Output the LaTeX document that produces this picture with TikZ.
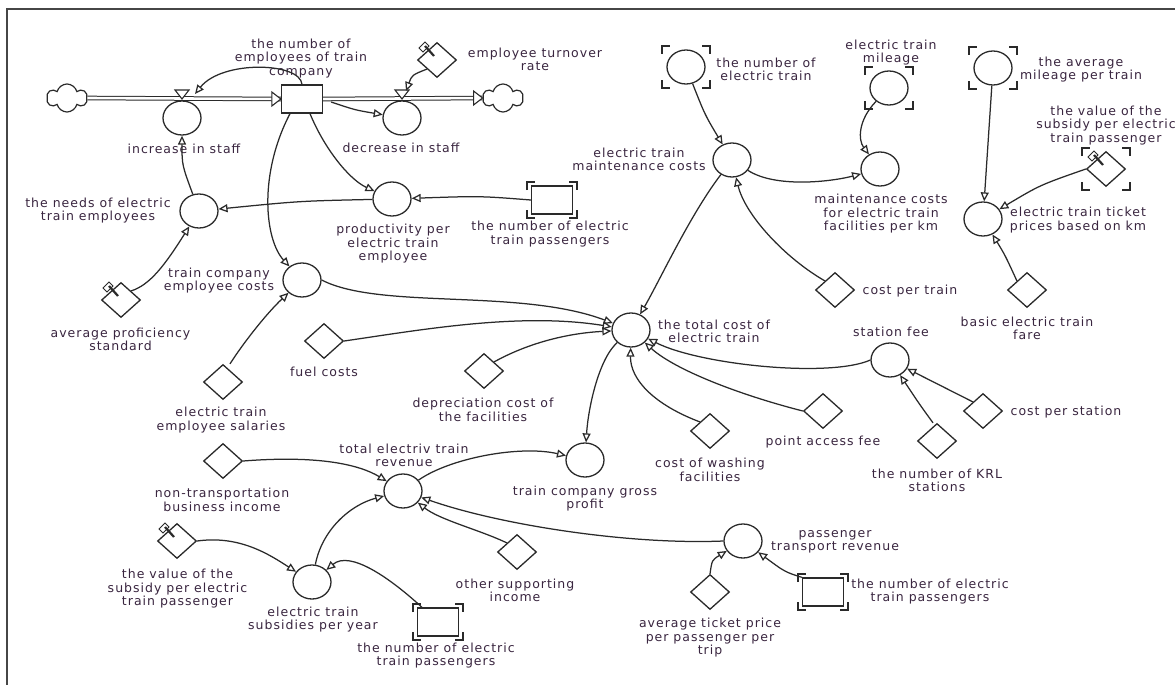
\documentclass[tikz,border=0pt]{standalone}
\usepackage{fontspec}
\newfontfamily\lblfam{DejaVu Sans}[LetterSpace=8]
\usetikzlibrary{shapes.geometric,shapes.symbols,arrows.meta}
\definecolor{ln}{HTML}{2A2A2A}
\definecolor{txt}{HTML}{3A2640}
\definecolor{frm}{HTML}{464646}
\newcommand\lblfont{\lblfam\fontsize{12.5}{13.5}\selectfont}
\newcommand\brackets[3]{%
  \draw[brk] ([shift={(-#2,-#3+8)}]#1.center) -- ([shift={(-#2,-#3)}]#1.center) -- ([shift={(-#2+8,-#3)}]#1.center);
  \draw[brk] ([shift={(#2-8,-#3)}]#1.center) -- ([shift={(#2,-#3)}]#1.center) -- ([shift={(#2,-#3+8)}]#1.center);
  \draw[brk] ([shift={(-#2,#3-8)}]#1.center) -- ([shift={(-#2,#3)}]#1.center) -- ([shift={(-#2+8,#3)}]#1.center);
  \draw[brk] ([shift={(#2-8,#3)}]#1.center) -- ([shift={(#2,#3)}]#1.center) -- ([shift={(#2,#3-8)}]#1.center);
}
\newcommand\pinicon[1]{%
  \draw[ln,line width=0.9pt,fill=white] ([shift={(-18,-12)}]#1.center) -- ([shift={(-12,-18)}]#1.center) -- ([shift={(-8,-14)}]#1.center) -- ([shift={(-14,-8)}]#1.center) -- cycle;
  \draw[ln,line width=2.2pt] ([shift={(-12,-14)}]#1.center) -- ([shift={(-3,-4)}]#1.center);
}
\newcommand\valve[1]{%
  \draw[ln,line width=1.1pt,fill=white] ([shift={(-7,-28)}]#1.center) -- ([shift={(7,-28)}]#1.center) -- ([shift={(0,-19)}]#1.center) -- cycle;
}
\newcommand\pipetip[1]{%
  \draw[ln,line width=1.1pt,fill=white] ([shift={(-9,-7)}]#1) -- (#1) -- ([shift={(-9,7)}]#1) -- cycle;
}
\tikzset{
  aux/.style={ellipse,draw=ln,line width=1.3pt,fill=white,minimum width=38pt,minimum height=34pt,inner sep=0pt},
  cst/.style={diamond,draw=ln,line width=1.3pt,fill=white,minimum width=39pt,minimum height=35pt,inner sep=0pt},
  lvl/.style={rectangle,draw=ln,line width=1.3pt,fill=white,minimum width=41pt,minimum height=28pt,inner sep=0pt},
  lbl/.style={align=center,font=\lblfont,text=txt,inner sep=0pt},
  lnk/.style={draw=ln,line width=1.25pt,-{Triangle[open,length=9pt,width=8pt]}},
  pipe/.style={draw=ln,line width=1pt,double=white,double distance=2.6pt},
  brk/.style={draw=ln,line width=1.5pt},
  cloudy/.style={cloud,cloud puffs=6,aspect=1.45,draw=ln,line width=1.2pt,fill=white,minimum width=40pt,minimum height=28pt,inner sep=0pt},
}
\begin{document}
\begin{tikzpicture}[x=1pt,y=-1pt]
\useasboundingbox (0,0) rectangle (1175,685);
\fill[white] (0,0) rectangle (1175,685);
\draw[frm,line width=1.6pt] (7,685) -- (7,9) -- (1175,9);

% clouds and stock
\node[cloudy] (cloudL) at (67,98) {};
\node[cloudy] (cloudR) at (503,98) {};
\node[lvl] (stock) at (302,99) {};

% auxiliaries
\node[aux] (inc) at (182,118) {};
\node[aux] (dec) at (402,118) {};
\node[aux] (needs) at (199,211) {};
\node[aux] (prod) at (392,199) {};
\node[aux] (empc) at (302,280) {};
\node[aux] (maint) at (732,160) {};
\node[aux] (mpk) at (880,169) {};
\node[aux] (ticket) at (983,219) {};
\node[aux] (total) at (631,330) {};
\node[aux] (station) at (890,360) {};
\node[aux] (gross) at (585,460) {};
\node[aux] (rev) at (403,491) {};
\node[aux] (subs) at (312,582) {};
\node[aux] (prev) at (743,541) {};
\node[aux] (ntrain) at (686,67) {};
\node[aux] (mileage) at (889,88) {};
\node[aux] (avgmil) at (993,68) {};

% constants
\node[cst] (turn) at (437,60) {};
\node[cst] (prof) at (121,300) {};
\node[cst] (sal) at (223,382) {};
\node[cst] (fuel) at (324,341) {};
\node[cst] (dep) at (484,371) {};
\node[cst] (wash) at (710,431) {};
\node[cst] (pacc) at (823,411) {};
\node[cst] (cstat) at (983,411) {};
\node[cst] (krl) at (937,441) {};
\node[cst] (ctrain) at (835,290) {};
\node[cst] (basic) at (1027,290) {};
\node[cst] (subsT) at (1106,169) {};
\node[cst] (nontr) at (223,461) {};
\node[cst] (subsB) at (177,541) {};
\node[cst] (other) at (517,552) {};
\node[cst] (avgt) at (710,592) {};

% shadow boxes
\node[lvl] (passT) at (552,200) {};
\node[lvl] (passB) at (438,622) {};
\node[lvl] (passR) at (823,592) {};

% brackets and icons
\brackets{ntrain}{24}{21}
\brackets{mileage}{24}{21}
\brackets{avgmil}{24}{21}
\brackets{subsT}{24}{21}
\brackets{passT}{25}{18}
\brackets{passB}{25}{18}
\brackets{passR}{25}{18}
\pinicon{turn}
\pinicon{prof}
\pinicon{subsT}
\pinicon{subsB}

% flows
\draw[pipe] (cloudL.east) -- (stock.west);
\draw[pipe] (stock.east) -- (cloudR.west);
\pipetip{stock.west}
\pipetip{cloudR.west}
\valve{inc}
\valve{dec}
\coordinate (vinc) at (195,94);
\coordinate (vdec) at (406,91);

% labels
\node[lbl] at (301,58.5) {the number of\\employees of train\\company};
\node[lbl] at (184,149) {increase in staff};
\node[lbl] at (401,148) {decrease in staff};
\node[lbl] at (535,59.5) {employee turnover\\rate};
\node[lbl] at (98,210.5) {the needs of electric\\train employees};
\node[lbl] at (393,244) {productivity per\\electric train\\employee};
\node[lbl] at (550,234) {the number of electric\\train passengers};
\node[lbl] at (219,280.5) {train company\\employee costs};
\node[lbl] at (120.5,339.5) {average proficiency\\standard};
\node[lbl] at (221,420) {electric train\\employee salaries};
\node[lbl] at (324,372) {fuel costs};
\node[lbl] at (483,410) {depreciation cost of\\the facilities};
\node[lbl] at (714,331.5) {the total cost of\\electric train};
\node[lbl] at (639,159.5) {electric train\\maintenance costs};
\node[lbl] at (766,69.5) {the number of\\electric train};
\node[lbl] at (891,52.5) {electric train\\mileage};
\node[lbl] at (881,214) {maintenance costs\\for electric train\\facilities per km};
\node[lbl] at (1081,69.5) {the average\\mileage per train};
\node[lbl] at (1106,125.5) {the value of the\\subsidy per electric\\train passenger};
\node[lbl] at (1078,220) {electric train ticket\\prices based on km};
\node[lbl] at (910,291) {cost per train};
\node[lbl] at (1027,328.5) {basic electric train\\fare};
\node[lbl] at (891,332) {station fee};
\node[lbl] at (710,470) {cost of washing\\facilities};
\node[lbl] at (823,442) {point access fee};
\node[lbl] at (1066,412) {cost per station};
\node[lbl] at (937,480.5) {the number of KRL\\stations};
\node[lbl] at (404,455.5) {total electriv train\\revenue};
\node[lbl] at (222,500) {non-transportation\\business income};
\node[lbl] at (585,498.5) {train company gross\\profit};
\node[lbl] at (177.5,589) {the value of the\\subsidy per electric\\train passenger};
\node[lbl] at (313,619.5) {electric train\\subsidies per year};
\node[lbl] at (436,655.5) {the number of electric\\train passengers};
\node[lbl] at (515,590.5) {other supporting\\income};
\node[lbl] at (835,542) {passenger\\transport revenue};
\node[lbl] at (710,638) {average ticket price\\per passenger per\\trip};
\node[lbl] at (930,591.5) {the number of electric\\train passengers};

% connectors
\draw[lnk] (stock.north) .. controls (300,62) and (222,60) .. (vinc);
\draw[lnk] ([xshift=8pt,yshift=-3pt]stock.east) .. controls (355,110) .. (dec);
\draw[lnk] (turn.south west) .. controls (412,75) .. (vdec);
\draw[lnk] ([xshift=8pt]stock.south) .. controls (325,150) and (350,180) .. (prod);
\draw[lnk] ([xshift=-12pt]stock.south) .. controls (258,175) and (265,240) .. (empc);
\draw[lnk] (prod) .. controls (300,201) .. (needs);
\draw[lnk] (needs) .. controls (182,165) .. (inc);
\draw[lnk] (prof.north east) .. controls (150,285) and (165,265) .. (needs);
\draw[lnk] ([xshift=7pt]sal.north) .. controls (242,345) and (265,315) .. (empc);
\draw[lnk] (passT.west) .. controls (480,196) .. (prod);
\draw[lnk] (empc.east) .. controls (380,310) and (520,288) .. (total);
\draw[lnk] (fuel.east) .. controls (420,330) and (520,312) .. (total);
\draw[lnk] (dep.north east) .. controls (530,342) and (570,333) .. (total);
\draw[lnk] (maint) .. controls (690,215) and (660,280) .. (total);
\draw[lnk] (ntrain) .. controls (705,115) .. (maint);
\draw[lnk] (mileage) .. controls (858,120) and (858,140) .. (mpk);
\draw[lnk] (maint) .. controls (775,188) and (830,182) .. (mpk);
\draw[lnk] (ctrain.north west) .. controls (785,258) and (745,215) .. (maint);
\draw[lnk] (avgmil) -- (ticket);
\draw[lnk] (subsT.west) .. controls (1040,185) .. (ticket);
\draw[lnk] (basic.north west) .. controls (1005,255) .. (ticket);
\draw[lnk] (total) .. controls (598,360) and (588,410) .. (gross);
\draw[lnk] (wash.north west) .. controls (655,405) and (630,380) .. (total);
\draw[lnk] (pacc.west) .. controls (740,395) and (675,370) .. (total);
\draw[lnk] (station.west) .. controls (830,378) and (700,365) .. (total);
\draw[lnk] (cstat.north west) -- (station);
\draw[lnk] ([xshift=-4pt]krl.north) .. controls (920,405) .. (station);
\draw[lnk] (rev) .. controls (450,458) and (520,445) .. (gross);
\draw[lnk] (nontr.east) .. controls (320,455) and (360,465) .. (rev);
\draw[lnk] (subsB.east) .. controls (240,535) and (270,555) .. (subs);
\draw[lnk] (subs) .. controls (322,530) and (350,505) .. (rev);
\draw[lnk] ([xshift=-16pt]passB.north) .. controls (390,578) and (350,550) .. (subs);
\draw[lnk] (other.north west) .. controls (480,530) and (440,520) .. (rev);
\draw[lnk] (prev.west) .. controls (630,545) and (500,525) .. (rev);
\draw[lnk] (avgt.north) .. controls (712,560) .. (prev);
\draw[lnk] (passR.north west) .. controls (785,572) .. (prev);
\end{tikzpicture}
\end{document}
